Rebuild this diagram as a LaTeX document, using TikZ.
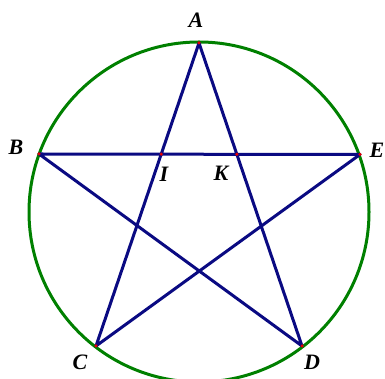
\documentclass[tikz,border=0pt]{standalone}
\usepackage{fontspec}
\setmainfont{Liberation Serif}
\definecolor{circgreen}{RGB}{0,128,0}
\definecolor{starblue}{RGB}{10,10,130}
\definecolor{ptred}{RGB}{230,0,0}
\begin{document}
\begin{tikzpicture}[x=1pt,y=1pt,
  circ/.style={draw=circgreen,line width=3pt},
  starline/.style={draw=starblue,line width=3pt},
  pt/.style={circle,fill=ptred,inner sep=0pt,minimum size=3.5pt},
  lbl/.style={font=\fontsize{22}{22}\selectfont\bfseries\itshape,inner sep=0pt}]
\useasboundingbox (0,0) rectangle (385,379);
\clip (0,0) rectangle (385,379);
\coordinate (O) at (199,167);
\coordinate (A) at (199,336);
\coordinate (B) at (39,225);
\coordinate (E) at (360,224.5);
\coordinate (C) at (96,33);
\coordinate (D) at (302,33);
\coordinate (I) at (intersection of A--C and B--E);
\coordinate (K) at (intersection of A--D and B--E);
\draw[circ] (O) circle[radius=170];
\draw[starline,line join=round] (A) -- (C) -- (E) -- (B) -- (D) -- cycle;
\foreach \p in {A,B,C,D,E,I,K} \node[pt] at (\p) {};
\node[lbl] (lA) at (196,359) {A};
\node[lbl] (lB) at (16,232) {B};
\node[lbl] (lE) at (377,229) {E};
\node[lbl] (lI) at (164,205) {I};
\node[lbl] (lK) at (221,206) {K};
\node[lbl] (lC) at (80,17) {C};
\node[lbl] (lD) at (312,17) {D};
\end{tikzpicture}
\end{document}
